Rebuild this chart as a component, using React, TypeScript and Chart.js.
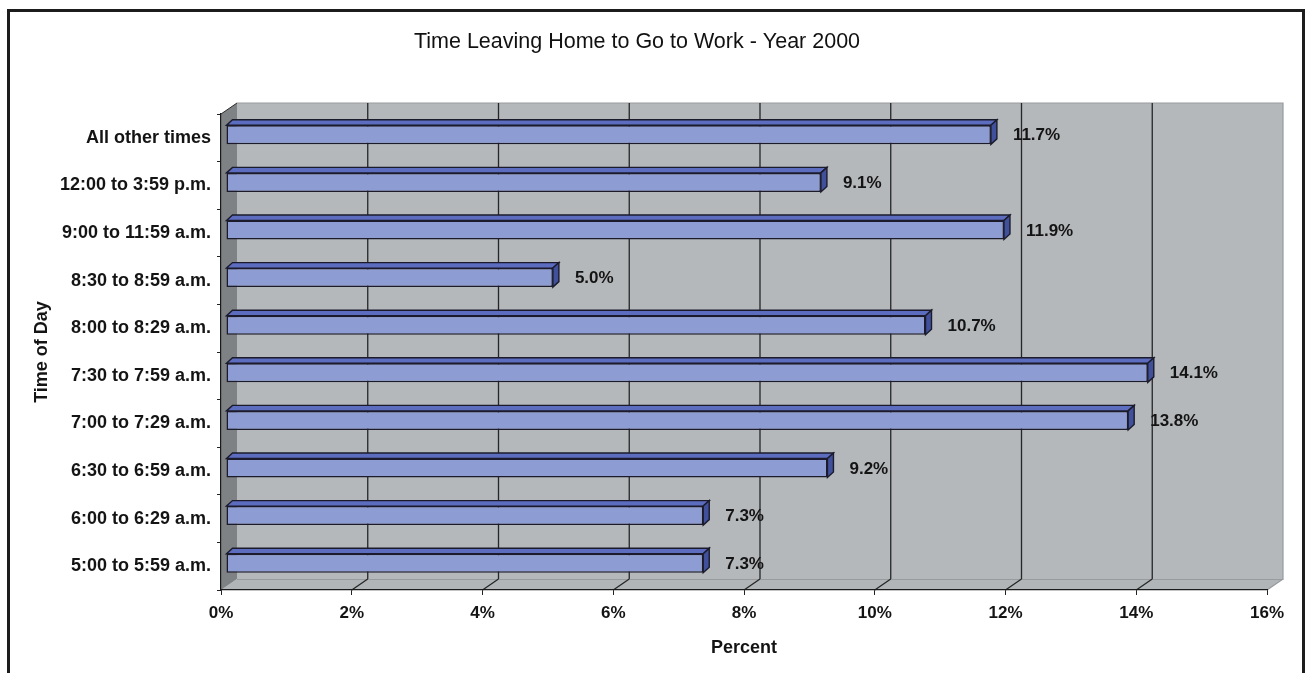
import React, { useEffect, useRef } from 'react';
import { Chart, registerables } from 'chart.js';

Chart.register(...registerables);

// ---- data ----
const categories = [
  'All other times',
  '12:00 to 3:59 p.m.',
  '9:00 to 11:59 a.m.',
  '8:30 to 8:59 a.m.',
  '8:00 to 8:29 a.m.',
  '7:30 to 7:59 a.m.',
  '7:00 to 7:29 a.m.',
  '6:30 to 6:59 a.m.',
  '6:00 to 6:29 a.m.',
  '5:00 to 5:59 a.m.',
];
const percentages = [11.7, 9.1, 11.9, 5.0, 10.7, 14.1, 13.8, 9.2, 7.3, 7.3];
const axisMin = 0;
const axisMax = 16;
const axisStep = 2;
const chartTitle = 'Time Leaving Home to Go to Work - Year 2000';
const xAxisTitle = 'Percent';
const yAxisTitle = 'Time of Day';

// ---- look ----
const W = 1305;
const H = 673;
const FONT = '"Liberation Sans", Arial, Helvetica, sans-serif';
const INK = '#141414';
const WALL_DX = 16; // depth of the 3D box
const WALL_DY = -11;
const BAR_SHIFT_X = 5; // bars sit a little way back inside the box
const BAR_SHIFT_Y = -3;
const BAR_DX = 6; // depth of each bar
const BAR_DY = -5.5;
const BAR_FRONT = '#8E9CD4';
const BAR_TOP = '#5C6CBF';
const BAR_SIDE = '#41509B';
const BAR_EDGE = '#1b1b2c';

function poly(ctx: CanvasRenderingContext2D, pts: number[][], fill?: string, stroke?: string, lw = 1) {
  ctx.beginPath();
  ctx.moveTo(pts[0][0], pts[0][1]);
  for (let i = 1; i < pts.length; i++) ctx.lineTo(pts[i][0], pts[i][1]);
  ctx.closePath();
  if (fill) {
    ctx.fillStyle = fill;
    ctx.fill();
  }
  if (stroke) {
    ctx.strokeStyle = stroke;
    ctx.lineWidth = lw;
    ctx.stroke();
  }
}

// Frame, title, walls, floor and gridlines of the 3D box
const backdrop = {
  id: 'backdrop',
  beforeDraw(chart: any) {
    const { ctx, chartArea: a, scales } = chart;
    const x = scales.x;
    ctx.save();
    ctx.fillStyle = '#ffffff';
    ctx.fillRect(0, 0, W, H);

    // outer frame (open at the bottom)
    ctx.strokeStyle = '#1c1c1c';
    ctx.lineWidth = 3;
    ctx.beginPath();
    ctx.moveTo(8.5, H + 5);
    ctx.lineTo(8.5, 10.5);
    ctx.lineTo(1303.5, 10.5);
    ctx.lineTo(1303.5, H + 5);
    ctx.stroke();

    // title
    ctx.fillStyle = '#111';
    ctx.font = `21.5px ${FONT}`;
    ctx.textAlign = 'center';
    ctx.textBaseline = 'middle';
    ctx.fillText(chartTitle, 637, 42);

    const bl = a.left + WALL_DX;
    const br = a.right + WALL_DX;
    const bt = a.top + WALL_DY;
    const bb = a.bottom + WALL_DY;

    // back wall
    ctx.fillStyle = '#B4B8BA';
    ctx.fillRect(bl, bt, br - bl, bb - bt);
    // floor
    poly(ctx, [[a.left, a.bottom], [a.right, a.bottom], [br, bb], [bl, bb]], '#B1B5B7');
    // side wall
    poly(ctx, [[a.left, a.top], [bl, bt], [bl, bb], [a.left, a.bottom]], '#7E8284');

    // light edges of the box
    ctx.strokeStyle = '#979b9d';
    ctx.lineWidth = 1.2;
    ctx.beginPath();
    ctx.moveTo(bl, bb + 0.5);
    ctx.lineTo(br, bb + 0.5);
    ctx.lineTo(br, bt);
    ctx.lineTo(bl, bt);
    ctx.moveTo(br, bb);
    ctx.lineTo(a.right, a.bottom);
    ctx.stroke();

    // dark top edge of the side wall
    ctx.strokeStyle = '#2a2a2a';
    ctx.lineWidth = 1;
    ctx.beginPath();
    ctx.moveTo(a.left, a.top);
    ctx.lineTo(bl, bt);
    ctx.stroke();

    // gridlines: up the back wall and across the floor
    ctx.strokeStyle = '#262626';
    ctx.lineWidth = 1.3;
    for (const t of x.ticks) {
      const v = t.value;
      if (v <= axisMin || v >= axisMax) continue;
      const px = x.getPixelForValue(v);
      ctx.beginPath();
      ctx.moveTo(px + WALL_DX, bt);
      ctx.lineTo(px + WALL_DX, bb);
      ctx.moveTo(px, a.bottom);
      ctx.lineTo(px + WALL_DX, bb);
      ctx.stroke();
    }
    ctx.restore();
  },
};

// Gives each bar a top and a side face, and prints its value
const bars3d = {
  id: 'bars3d',
  beforeDatasetsDraw(chart: any) {
    chart.ctx.save();
    chart.ctx.translate(BAR_SHIFT_X, BAR_SHIFT_Y);
  },
  afterDatasetsDraw(chart: any) {
    const ctx = chart.ctx;
    const meta = chart.getDatasetMeta(0);
    meta.data.forEach((el: any, i: number) => {
      const { x, y, base, height } = el.getProps(['x', 'y', 'base', 'height'], true);
      const top = y - height / 2;
      const bot = y + height / 2;
      poly(ctx, [[base, top], [base + BAR_DX, top + BAR_DY], [x + BAR_DX, top + BAR_DY], [x, top]], BAR_TOP, BAR_EDGE, 1.4);
      poly(ctx, [[x, top], [x + BAR_DX, top + BAR_DY], [x + BAR_DX, bot + BAR_DY], [x, bot]], BAR_SIDE, BAR_EDGE, 1.4);

      ctx.fillStyle = INK;
      ctx.font = `bold 17px ${FONT}`;
      ctx.textAlign = 'left';
      ctx.textBaseline = 'middle';
      ctx.fillText(`${percentages[i].toFixed(1)}%`, x + 22, y + 1);
    });
    ctx.restore();
  },
};

export default function App() {
  const ref = useRef<HTMLCanvasElement | null>(null);

  useEffect(() => {
    if (!ref.current) return;
    Chart.defaults.font.family = FONT;
    const chart = new Chart(ref.current, {
      type: 'bar',
      data: {
        labels: categories,
        datasets: [
          {
            data: percentages,
            backgroundColor: BAR_FRONT,
            borderColor: BAR_EDGE,
            borderWidth: 1.5,
            borderSkipped: false,
            barPercentage: 0.4,
            categoryPercentage: 1,
          },
        ],
      },
      options: {
        indexAxis: 'y',
        responsive: false,
        devicePixelRatio: 1,
        animation: false,
        events: [],
        layout: { padding: { top: 114, right: 38, bottom: 0, left: 0 } },
        plugins: {
          legend: { display: false },
          title: { display: false },
          tooltip: { enabled: false },
        },
        scales: {
          x: {
            type: 'linear',
            min: axisMin,
            max: axisMax,
            ticks: {
              stepSize: axisStep,
              callback: (v: any) => `${v}%`,
              font: { size: 17, weight: 'bold' },
              color: INK,
              padding: 8,
            },
            grid: { drawOnChartArea: false, drawTicks: true, tickLength: 5, color: '#222' },
            border: { display: true, color: '#1a1a1a', width: 1.2 },
            title: {
              display: true,
              text: xAxisTitle,
              color: INK,
              font: { size: 18, weight: 'bold' },
              padding: { top: 0, bottom: 14 },
            },
            afterFit: (s: any) => {
              s.height = 83;
            },
          },
          y: {
            type: 'category',
            ticks: { font: { size: 18, weight: 'bold' }, color: INK, padding: 6 },
            grid: { drawOnChartArea: false, drawTicks: true, tickLength: 4, color: '#222', offset: true },
            border: { display: true, color: '#1a1a1a', width: 1.2 },
            title: {
              display: true,
              text: yAxisTitle,
              color: INK,
              font: { size: 18, weight: 'bold' },
              padding: { top: 31, bottom: 0 },
            },
            afterFit: (s: any) => {
              s.width = 221;
            },
          },
        },
      },
      plugins: [backdrop, bars3d],
    });
    return () => chart.destroy();
  }, []);

  return (
    <div style={{ position: 'absolute', left: 0, top: 0, width: W, height: H, overflow: 'hidden' }}>
      <canvas ref={ref} width={W} height={H} style={{ display: 'block' }} />
    </div>
  );
}
